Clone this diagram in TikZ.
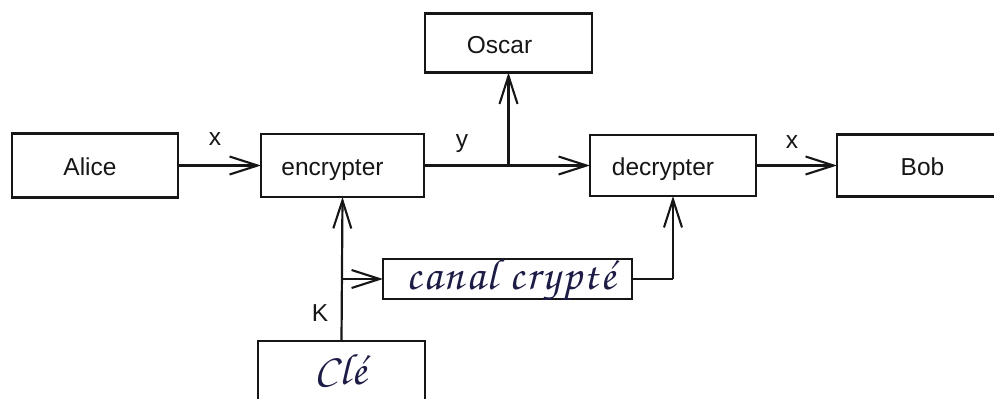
\documentclass[tikz,border=0pt]{standalone}
\usepackage{fontspec}
\setmainfont{Liberation Sans}
\newfontfamily\handfont[LetterSpace=5]{TeX Gyre Chorus}
\usetikzlibrary{arrows.meta}
\definecolor{ink}{RGB}{22,22,22}
\definecolor{scriptink}{RGB}{28,28,70}
\begin{document}
\begin{tikzpicture}[x=1pt,y=-1pt,
  box/.style={draw=ink, line width=2.7pt, inner sep=0pt, outer sep=0pt},
  txt/.style={font=\fontsize{24.5}{28}\selectfont, text=ink,
              inner sep=0pt, text height=17.5pt, text depth=0pt},
  hand/.style={font=\handfont\fontsize{44}{48}\selectfont, text=scriptink,
              inner sep=0pt, text height=16pt, text depth=0pt},
  wire/.style={draw=ink, line width=2.2pt},
  flow/.style={wire, -{Straight Barb[length=28pt,width=18pt,line width=2.1pt]}},
]
\useasboundingbox (0,0) rectangle (994,399);
\clip (0,0) rectangle (994,399);

% boxes
\node[box, minimum width=166pt, minimum height=64pt,
      label={[txt, xshift=-5pt, yshift=-1.5pt]center:Alice}] (alice) at (95,165.5) {};
\node[box, minimum width=163pt, minimum height=63pt,
      label={[txt, xshift=-10pt, yshift=-1.5pt]center:encrypter}] (enc) at (342.5,165.5) {};
\node[box, minimum width=167pt, minimum height=59pt,
      label={[txt, xshift=-9pt, yshift=-1.5pt]center:Oscar}] (oscar) at (508.5,43) {};
\node[box, minimum width=166pt, minimum height=61pt,
      label={[txt, xshift=-10pt, yshift=-1.5pt]center:decrypter}] (dec) at (673,165.5) {};
\node[box, minimum width=173pt, minimum height=62pt,
      label={[txt, xshift=-1pt, yshift=-1.5pt]center:Bob}] (bob) at (923.5,165.5) {};
\node[box, minimum width=249pt, minimum height=40pt,
      label={[hand, xshift=3pt, yshift=-2pt]center:canal crypté}] (canal) at (507.5,279) {};
\node[box, minimum width=167pt, minimum height=66pt,
      label={[hand, xshift=-1pt, yshift=-2pt]center:Clé}] (cle) at (341.5,374) {};

% connectors
\coordinate (tap) at (oscar.south |- enc.east);
\coordinate (kfork) at (cle.north |- canal.west);
\coordinate (rise) at (dec.south |- canal.east);

\draw[flow] (alice.east) -- (enc.west);
\draw[wire] (enc.east) -- (tap);
\draw[flow] (tap) -- (dec.west);
\draw[flow] (tap) -- (oscar.south);
\draw[flow] (dec.east) -- (bob.west);
\draw[flow] (cle.north) -- (enc.south);
\draw[flow] (kfork) -- (canal.west);
\draw[wire] (canal.east) -- (rise);
\draw[flow] (rise) -- (dec.south);

% labels on the lines
\node[txt] (lx1) at (215,137) {x};
\node[txt] (ly) at (462,139) {y};
\node[txt] (lx2) at (792,140) {x};
\node[txt] (lk) at (320,313) {K};
\end{tikzpicture}
\end{document}
